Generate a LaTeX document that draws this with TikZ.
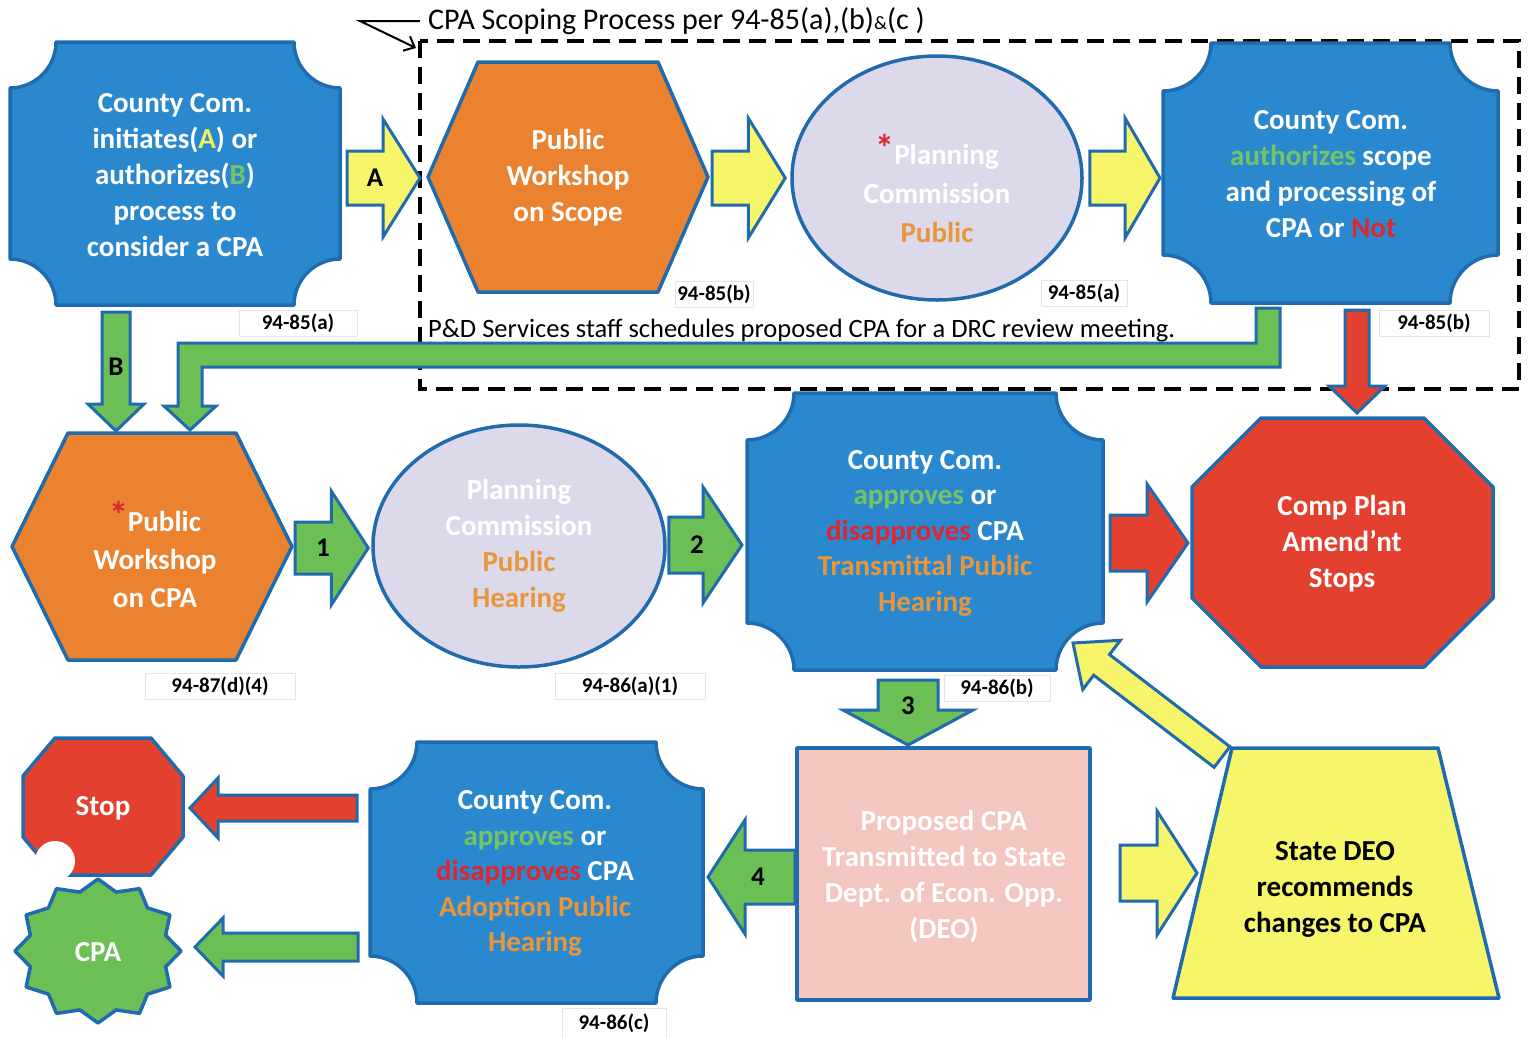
\documentclass[tikz,border=0pt]{standalone}
\usepackage{fontspec}
\setmainfont{Carlito}
\usetikzlibrary{calc,shapes.geometric,arrows.meta}
\definecolor{cblue}{HTML}{2A89CE}
\definecolor{cline}{HTML}{1F6BAE}
\definecolor{corange}{HTML}{EA8230}
\definecolor{clav}{HTML}{DCDAEA}
\definecolor{cyellow}{HTML}{F7F56A}
\definecolor{cgreen}{HTML}{6BBF55}
\definecolor{cred}{HTML}{E4402F}
\definecolor{cpink}{HTML}{F4C6C0}
\definecolor{tgreen}{HTML}{74C466}
\definecolor{tred}{HTML}{DC2630}
\definecolor{torange}{HTML}{E8963C}
\definecolor{tyellow}{HTML}{F2F25A}

% block arrow: fill, start, tip, half shaft, half head, head length
\newcommand\blockarrow[6]{%
  \coordinate (bas) at #2;
  \coordinate (bat) at #3;
  \coordinate (bah) at ($(bat)!#6!(bas)$);
  \draw[arr, fill=#1] ($(bas)!#4!90:(bat)$) -- ($(bah)!#4!-90:(bas)$) -- ($(bah)!#5!-90:(bas)$)
     -- (bat) -- ($(bah)!#5!90:(bas)$) -- ($(bah)!#4!90:(bas)$) -- ($(bas)!#4!-90:(bat)$) -- cycle;}
% plaque: node, radius, fill
\newcommand\plaque[3]{%
  \draw[shp, fill=#3]
   ($(#1.north west)+(#2,0)$) -- ($(#1.north east)+(-#2,0)$)
   .. controls ($(#1.north east)+(-#2,0.55*#2)$) and ($(#1.north east)+(-0.55*#2,#2)$) .. ($(#1.north east)+(0,#2)$)
   -- ($(#1.south east)+(0,-#2)$)
   .. controls ($(#1.south east)+(-0.55*#2,-#2)$) and ($(#1.south east)+(-#2,-0.55*#2)$) .. ($(#1.south east)+(-#2,0)$)
   -- ($(#1.south west)+(#2,0)$)
   .. controls ($(#1.south west)+(#2,-0.55*#2)$) and ($(#1.south west)+(0.55*#2,-#2)$) .. ($(#1.south west)+(0,-#2)$)
   -- ($(#1.north west)+(0,#2)$)
   .. controls ($(#1.north west)+(0.55*#2,#2)$) and ($(#1.north west)+(#2,0.55*#2)$) .. cycle;}
% hexagon: node, inset, fill
\newcommand\hexa[3]{%
  \draw[shp, fill=#3] ($(#1.north west)+(#2,0)$) -- ($(#1.north east)+(-#2,0)$) -- (#1.east)
   -- ($(#1.south east)+(-#2,0)$) -- ($(#1.south west)+(#2,0)$) -- (#1.west) -- cycle;}
% octagon: node, cut x, cut y, fill
\newcommand\octa[4]{%
  \draw[shp, fill=#4] ($(#1.north west)+(#2,0)$) -- ($(#1.north east)+(-#2,0)$) -- ($(#1.north east)+(0,#3)$)
   -- ($(#1.south east)+(0,-#3)$) -- ($(#1.south east)+(-#2,0)$) -- ($(#1.south west)+(#2,0)$)
   -- ($(#1.south west)+(0,-#3)$) -- ($(#1.north west)+(0,#3)$) -- cycle;}
\newcommand\rast{\raisebox{3pt}{\fontsize{38}{38}\selectfont\textcolor{tred}{*}}}

\begin{document}
\begin{tikzpicture}[x=1pt,y=-1pt,
  box/.style n args={2}{rectangle, inner sep=0pt, outer sep=0pt, minimum width=#1pt, minimum height=#2pt},
  shp/.style={draw=cline, line width=3.5pt, line join=round},
  arr/.style={draw=cline, line width=3pt, line join=miter},
  txt/.style={font=\bfseries\fontsize{29}{36}\selectfont, text=white, align=center, inner sep=0pt},
  lbl/.style={font=\bfseries\fontsize{21}{24}\selectfont, fill=white, draw=black!10, line width=0.7pt, inner sep=0pt, minimum height=26pt},
  albl/.style={font=\bfseries\fontsize{27}{30}\selectfont, text=black, inner sep=0pt},
  dashbox/.style={draw=black, line width=4pt, dash pattern=on 17pt off 9pt},
  callout/.style={draw=black, line width=2pt, -{Straight Barb[length=9pt,width=16pt]}}]
\useasboundingbox (0,0) rectangle (1532,1037);

% dashed scoping frame
\coordinate (dbnw) at (420,41);
\coordinate (dbse) at (1519,389);
\draw[dashbox] (dbnw) rectangle (dbse);
\node[anchor=west, font=\fontsize{30}{32}\selectfont, inner sep=0pt] (cap) at (428,21)
  {CPA Scoping Process per 94-85(a),(b){\fontsize{19}{20}\selectfont\&}(c )};
\draw[callout] ($(cap.west)+(-8,0)$) -- ++(-60,0) -- ($(dbnw)+(-4,7)$);
\node[anchor=west, font=\fontsize{26.5}{28}\selectfont, inner sep=0pt] (drc) at (428,331)
  {P\&D Services staff schedules proposed CPA for a DRC review meeting.};

% ---- top row
\node[box={330}{263}] (n1) at (175,173.5) {};
\plaque{n1}{46}{cblue}
\node[txt] (n1t) at (175,175) {County Com.\\initiates(\textcolor{tyellow}{A}) or\\authorizes(\textcolor{tgreen}{B})\\process to\\consider a CPA};

\node[box={280}{230}] (hx1) at (568,177) {};
\hexa{hx1}{50}{corange}
\node[txt] (hx1t) at (568,178) {Public\\Workshop\\on Scope};

\node[ellipse, shp, fill=clav, minimum width=290pt, minimum height=244pt, inner sep=0pt] (el1) at (937,178) {};
\node[txt, font=\bfseries\fontsize{29}{39}\selectfont] (el1t) at (937,189) {\rast Planning\\Commission\\\textcolor{torange}{Public}};

\node[box={335}{260}] (n4) at (1330.5,173) {};
\plaque{n4}{48}{cblue}
\node[txt] (n4t) at (1331,174) {County Com.\\\textcolor{tgreen}{authorizes} scope\\and processing of\\CPA or \textcolor{tred}{Not}};

% ---- middle row
\node[box={280}{227}] (hx2) at (152,546.5) {};
\hexa{hx2}{56}{corange}
\node[txt, font=\bfseries\fontsize{29}{38}\selectfont] (hx2t) at (155,555) {\rast Public\\Workshop\\on CPA};

\node[ellipse, shp, fill=clav, minimum width=292pt, minimum height=242pt, inner sep=0pt] (el2) at (519,546) {};
\node[txt] (el2t) at (519,545.5) {Planning\\Commission\\\textcolor{torange}{Public}\\\textcolor{torange}{Hearing}};

\node[box={356}{277}] (pl2) at (925,531.5) {};
\plaque{pl2}{47}{cblue}
\node[txt, font=\bfseries\fontsize{29}{35.5}\selectfont] (pl2t) at (925,533) {County Com.\\\textcolor{tgreen}{approves} or\\\textcolor{tred}{disapproves} CPA\\\textcolor{torange}{Transmittal Public}\\\textcolor{torange}{Hearing}};

\node[box={301}{249}] (oct) at (1342.5,542.5) {};
\octa{oct}{69}{69}{cred}
\node[txt] (octt) at (1342,544) {Comp Plan\\Amend'nt\\Stops};

% ---- bottom row
\node[box={160}{137}] (stop) at (103,806.5) {};
\octa{stop}{32}{38}{cred}
\fill[white] (55,861) circle (20pt);
\node[txt] (stopt) at (103,808) {Stop};

\node[box={166}{144}] (cpa) at (98,951) {};
\draw[shp, fill=cgreen] ($(cpa)+(90:83 and 72)$)
  \foreach \i in {1,...,23} { -- ($(cpa)+({90+15*\i}:{83-13*mod(\i,2)} and {72-11*mod(\i,2)})$) } -- cycle;
\node[txt] (cpat) at (98,952) {CPA};

\node[box={333}{261}] (pl3) at (536.5,872.5) {};
\plaque{pl3}{47}{cblue}
\node[txt, font=\bfseries\fontsize{29}{35.5}\selectfont] (pl3t) at (535,873.5) {County Com.\\\textcolor{tgreen}{approves} or\\\textcolor{tred}{disapproves} CPA\\\textcolor{torange}{Adoption Public}\\\textcolor{torange}{Hearing}};

\node[box={293}{252}, shp, fill=cpink] (rect) at (943.5,874) {};
\node[txt, font=\bfseries\fontsize{29}{35.7}\selectfont] (rectt) at (944,876.5) {Proposed CPA\\Transmitted to State\\Dept. of Econ. Opp.\\(DEO)};

\node[box={326}{250}] (trap) at (1336,873) {};
\draw[shp, fill=cyellow] ($(trap.north west)+(59,0)$) -- ($(trap.north east)+(-61,0)$) -- (trap.south east) -- (trap.south west) -- cycle;
\node[txt, text=black] (trapt) at (1335,889) {State DEO\\recommends\\changes to CPA};

% ---- block arrows
\blockarrow{cyellow}{($(n1.east |- hx1.west)+(7,1)$)}{($(hx1.west)+(-8,1)$)}{27pt}{59pt}{37pt}
\blockarrow{cyellow}{($(hx1.east)+(4,1)$)}{($(el1.west |- hx1.east)+(-5,1)$)}{27pt}{60pt}{37pt}
\blockarrow{cyellow}{($(el1.east)+(6,0)$)}{($(n4.west |- el1.east)+(-3,0)$)}{27pt}{60pt}{35pt}

\coordinate (rds) at ($(n4.south)+(26.5,7)$);
\blockarrow{cred}{(rds)}{($(rds |- oct.north)+(0,-5)$)}{12pt}{28pt}{27pt}

\coordinate (bbs) at ($(n1.south)+(-59,7)$);
\blockarrow{cgreen}{(bbs)}{($(bbs |- hx2.north)+(0,-2)$)}{14pt}{28pt}{27pt}

% bent arrow from n4 to hx2
\coordinate (gs) at ($(n4.south)+(-62.5,5)$);
\coordinate (ge) at ($(hx2.north)+(38,-3)$);
\draw[arr, fill=cgreen] ($(gs)+(-12,0)$) -- ($(gs)+(12,0)$) -- ($(gs)+(12,59)$) -- ($(ge |- gs)+(12,59)$)
  -- ($(ge)+(12,-24)$) -- ($(ge)+(26,-24)$) -- (ge) -- ($(ge)+(-26,-24)$) -- ($(ge)+(-12,-24)$)
  -- ($(ge |- gs)+(-12,35)$) -- ($(gs)+(-12,35)$) -- cycle;

\blockarrow{cgreen}{($(hx2.east)+(3,1.5)$)}{($(el2.west |- hx2.east)+(-3,1.5)$)}{26pt}{57pt}{37pt}
\blockarrow{cgreen}{($(el2.east)+(2,-1)$)}{($(pl2.west |- el2.east)+(-5,-1)$)}{28pt}{58pt}{39pt}
\blockarrow{cred}{($(pl2.east)+(7,11.5)$)}{($(oct.west)+(-4,0.5)$)}{28pt}{59pt}{41pt}

\coordinate (a3s) at ($(pl2.south)+(-17,10)$);
\blockarrow{cgreen}{(a3s)}{($(a3s |- rect.north)+(0,-3)$)}{30pt}{65pt}{35pt}
\blockarrow{cyellow}{($(trap.north west)+(49,9)$)}{($(pl2.south east)+(-30,-27)$)}{13pt}{31pt}{36pt}

\blockarrow{cgreen}{($(rect.west)+(-2,3)$)}{($(pl3.east |- rect.west)+(5,3)$)}{27pt}{57pt}{37pt}
\blockarrow{cyellow}{($(rect.east)+(30,-1)$)}{($(trap.west)+(24,0)$)}{28pt}{62pt}{40pt}
\blockarrow{cred}{($(pl3.west |- stop.east)+(-13,1.5)$)}{($(stop.east)+(7,1.5)$)}{13pt}{30pt}{28pt}
\blockarrow{cgreen}{($(pl3.west |- cpa)+(-12,-4)$)}{($(cpa)+(97,-4)$)}{14pt}{29pt}{28pt}

% arrow labels
\node[albl] (la) at (375,178) {A};
\node[albl] (lbB) at (116,367) {B};
\node[albl] (l1) at (323,548) {1};
\node[albl] (l2) at (697,545) {2};
\node[albl] (l3) at (908,706) {3};
\node[albl] (l4) at (758,877) {4};

% section references
\node[lbl, minimum width=118pt] (r1) at (298,323) {94-85(a)};
\node[lbl, minimum width=78pt] (r2) at (714,294) {94-85(b)};
\node[lbl, minimum width=86pt] (r3) at (1084,293) {94-85(a)};
\node[lbl, minimum width=110pt] (r4) at (1434,323) {94-85(b)};
\node[lbl, minimum width=150pt] (r5) at (220,686) {94-87(d)(4)};
\node[lbl, minimum width=150pt] (r6) at (630,686) {94-86(a)(1)};
\node[lbl, minimum width=106pt] (r7) at (997,688) {94-86(b)};
\node[lbl, minimum width=104pt, minimum height=30pt] (r8) at (614,1023) {94-86(c)};
\end{tikzpicture}
\end{document}
